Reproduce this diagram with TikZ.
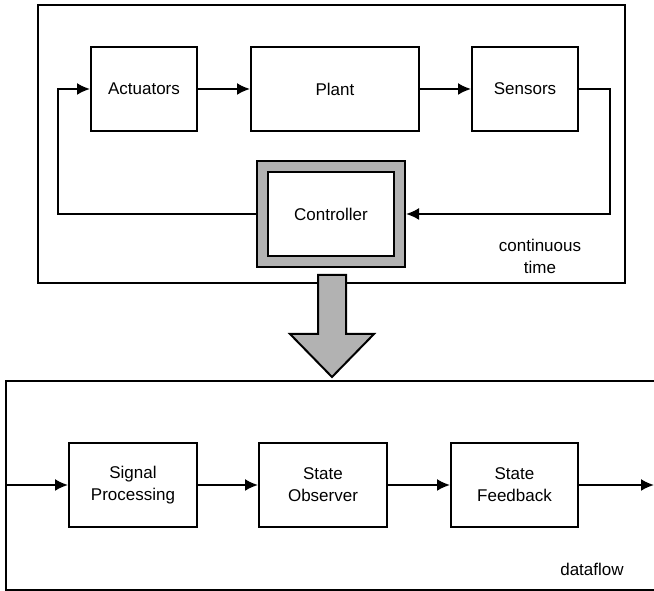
\documentclass[tikz,border=0pt]{standalone}
\usepackage{fontspec}
\setmainfont{Liberation Sans}
\usetikzlibrary{arrows.meta, positioning}
\definecolor{framegray}{RGB}{178,178,178}

\begin{document}
\begin{tikzpicture}[
    x=1pt, y=1pt,
    font=\fontsize{17}{22}\selectfont,
    block/.style={rectangle, draw, line width=2pt, 
                minimum width=127pt, minimum height=84pt, 
                align=center, text centered},
    layer/.style={draw, line width=2pt},
    arrow/.style={-{Latex[length=13pt, width=12pt]}, line width=2pt}
]
    \useasboundingbox (0,0) rectangle (654,591);

    % Continuous time layer
    \draw[layer] (38,308) rectangle (625,586);
    \node[block, minimum width=106pt] (actuators) at (144,502) {Actuators};
    \node[block, minimum width=168pt, right=52pt of actuators] (plant) {Plant};
    \node[block, minimum width=106pt, right=51pt of plant] (sensors) {Sensors};

    % Controller
    \node[layer, fill=framegray, minimum width=148pt, minimum height=106pt] (ctrlframe) at (331,377) {};
    \node[block, fill=white, minimum width=126pt, minimum height=84pt] (controller) at (ctrlframe.center) {Controller};

    % Connections
    \draw[arrow] (actuators) -- (plant);
    \draw[arrow] (plant) -- (sensors);
    \draw[arrow] (sensors.east) -- ++(31,0) |- (ctrlframe.east);
    \draw[arrow] (ctrlframe.west) -| ([xshift=-32pt]actuators.west) -- (actuators.west);

    \node[align=center] (ctlabel) at (540,335) {continuous\\time};

    % Dataflow layer
    \draw[layer] (6,1) rectangle (656,210);
    \node[block, minimum width=128pt] (sigproc) at (133,106) {Signal\\Processing};
    \node[block, minimum width=128pt, right=60pt of sigproc] (observer) {State\\Observer};
    \node[block, right=62pt of observer] (feedback) {State\\Feedback};
    \coordinate (input) at (6,106);
    \coordinate (output) at (654,106);

    \draw[arrow] (input) -- (sigproc);
    \draw[arrow] (sigproc) -- (observer);
    \draw[arrow] (observer) -- (feedback);
    \draw[arrow] (feedback) -- (output);

    \node (dflabel) at (592,22) {dataflow};

    % Refinement arrow
    \draw[layer, fill=framegray] (318,316) -- (318,257) -- (290,257) -- (332,214)
        -- (374,257) -- (346,257) -- (346,316) -- cycle;

\end{tikzpicture}
\end{document}
